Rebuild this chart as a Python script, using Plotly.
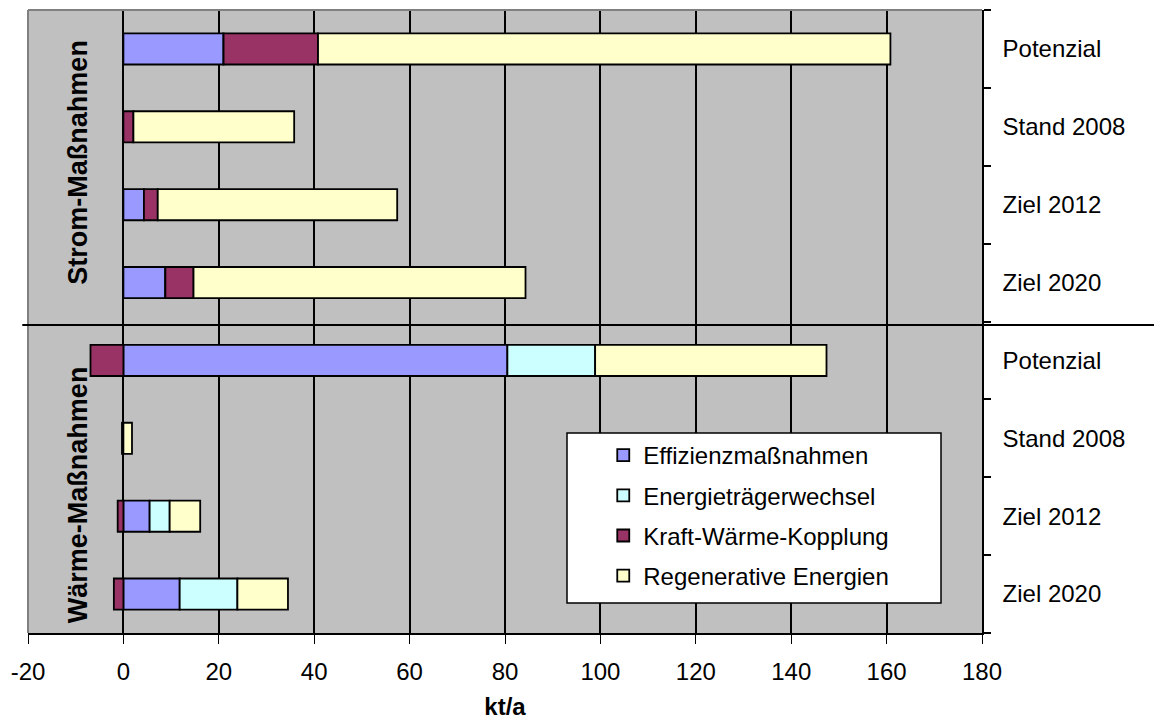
import plotly.graph_objects as go

# ---- data ----
groups = ["Strom-Maßnahmen", "Wärme-Maßnahmen"]
stages = ["Potenzial", "Stand 2008", "Ziel 2012", "Ziel 2020"]

series_names = ["Effizienzmaßnahmen", "Energieträgerwechsel",
                "Kraft-Wärme-Kopplung", "Regenerative Energien"]

# values per row: Strom (Potenzial, Stand 2008, Ziel 2012, Ziel 2020), then Wärme (same order)
effizienz = [21.0, 0.0, 4.3, 8.8, 80.5, 0.0, 5.5, 11.8]
energietraeger = [0.0, 0.0, 0.0, 0.0, 18.4, 0.0, 4.2, 12.1]
kwk = [19.8, 2.1, 2.9, 5.9, -6.9, -0.3, -1.2, -2.0]
regenerativ = [120.0, 33.7, 50.2, 69.6, 48.5, 1.8, 6.4, 10.6]

x_ticks = [-20, 0, 20, 40, 60, 80, 100, 120, 140, 160, 180]

colors = ["#9999FF", "#CCFFFF", "#993366", "#FFFFCC"]
FONT = "Liberation Sans, Arial, sans-serif"

# row positions from categories
rows = [g * len(stages) + i for g in range(len(groups)) for i in range(len(stages))]
row_labels = [s for _ in groups for s in stages]
n_rows = len(rows)

fig = go.Figure()
for k, (name, vals) in enumerate(zip(series_names,
                                      [effizienz, energietraeger, kwk, regenerativ])):
    fig.add_trace(go.Bar(
        x=vals, y=rows, orientation="h", name=name,
        legendgroup=name,
        marker=dict(color=colors[k], line=dict(color="black", width=1.8)),
        width=0.4,
    ))

# page has an 8px body margin; figure is sized to the remaining area
fig.update_layout(
    width=1154, height=720,
    margin=dict(l=20, r=180, t=2, b=95),
    paper_bgcolor="white",
    plot_bgcolor="#C0C0C0",
    barmode="relative",
    font=dict(family=FONT, size=24, color="black"),
    showlegend=True,
    legend=dict(
        x=0.603, y=0.321, xanchor="left", yanchor="top",
        bgcolor="rgba(0,0,0,0)", borderwidth=0,
        font=dict(family=FONT, size=24, color="black"),
        tracegroupgap=6,
        traceorder="grouped",
    ),
)

fig.update_xaxes(
    range=[x_ticks[0], x_ticks[-1]],
    tickvals=x_ticks,
    ticktext=[str(v) for v in x_ticks],
    showgrid=True, gridcolor="black", gridwidth=1.7,
    zeroline=False,
    showline=True, linecolor="black", linewidth=2,
    ticks="outside", ticklen=9, tickcolor="black", tickwidth=1,
    ticklabelstandoff=7,
    tickfont=dict(family=FONT, size=24),
    title=dict(text="<b>kt/a</b>", font=dict(family=FONT, size=24), standoff=14),
)

fig.update_yaxes(
    range=[n_rows - 0.5, -0.5],
    side="right",
    tickvals=rows,
    ticktext=row_labels,
    showgrid=False, zeroline=False,
    showline=True, linecolor="black", linewidth=1.5,
    ticks="outside", ticklen=0,
    ticklabelstandoff=14,
    tickfont=dict(family=FONT, size=24),
    minor=dict(tickmode="array",
               tickvals=[r - 0.5 for r in rows] + [rows[-1] + 0.5],
               ticks="outside", ticklen=7, tickcolor="black", tickwidth=1.5,
               showgrid=False),
)

# plot frame (gray left & top edges)
fig.add_shape(type="line", xref="paper", yref="paper", x0=0, x1=0, y0=0, y1=1,
              line=dict(color="#808080", width=2))
fig.add_shape(type="line", xref="paper", yref="paper", x0=0, x1=1, y0=1, y1=1,
              line=dict(color="#808080", width=2))

# divider between groups, extending to the right edge
fig.add_shape(type="line", xref="paper", yref="paper", x0=-0.006, x1=1.19,
              y0=(633 - 325) / 623, y1=(633 - 325) / 623,
              line=dict(color="black", width=2))

# legend box
fig.add_shape(type="rect", xref="paper", yref="paper",
              x0=(567 - 28) / 954, x1=(941 - 28) / 954,
              y0=(633 - 603) / 623, y1=(633 - 433) / 623,
              fillcolor="white", line=dict(color="black", width=1.5), layer="above")

# group labels
for g, yc in zip(groups, [1.46, 5.73]):
    fig.add_annotation(text="<b>%s</b>" % g, xref="paper", yref="y",
                       x=(78 - 28) / 954, y=yc, textangle=-90, showarrow=False,
                       font=dict(family=FONT, size=27, color="black"),
                       xanchor="center", yanchor="middle")

fig.write_html("out.html")
